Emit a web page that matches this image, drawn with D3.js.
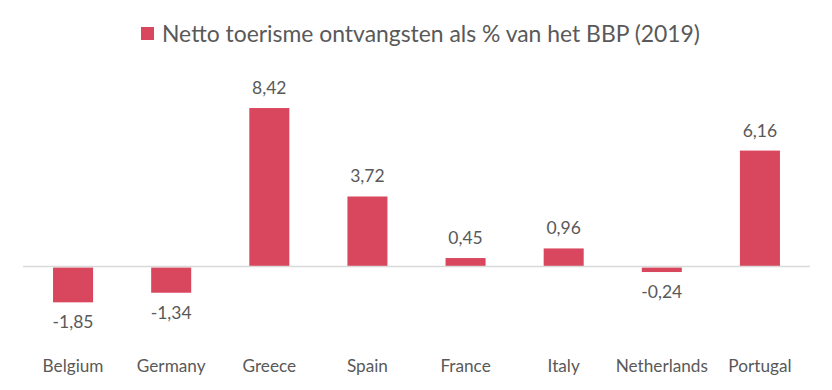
<!DOCTYPE html>
<html><head><meta charset="utf-8">
<script src="https://cdn.jsdelivr.net/npm/d3@7"></script>
<style>body{margin:0;background:#fff}svg{display:block}</style>
</head><body>
<script>
const categories = ["Belgium","Germany","Greece","Spain","France","Italy","Netherlands","Portugal"];
const values = [-1.85,-1.34,8.42,3.72,0.45,0.96,-0.24,6.16];
const seriesName = "Netto toerisme ontvangsten als % van het BBP (2019)";

const W=832,H=390;
const svg=d3.select("body").append("svg").attr("width",W).attr("height",H);
const font="Lato, 'Open Sans', sans-serif";
const color="#D9475F";
const textColor="#595959";

const x=d3.scaleBand().domain(categories).range([24,809]).paddingInner(0.592).paddingOuter(0.296);
const y=d3.scaleLinear().domain([-4,10]).range([341.8,78.3]);

const fmt=v=>d3.format(".2f")(v).replace(".",",").replace("\u2212","-");

svg.selectAll("rect.bar").data(values).join("rect").attr("class","bar")
 .attr("x",(d,i)=>x(categories[i]))
 .attr("width",x.bandwidth())
 .attr("y",d=>d>=0?y(d):y(0)+1)
 .attr("height",d=>Math.abs(y(d)-y(0)))
 .attr("fill",color);

svg.append("line").attr("x1",23).attr("x2",810).attr("y1",y(0)).attr("y2",y(0))
 .attr("stroke","#d9d9d9").attr("stroke-width",1.5);

svg.selectAll("text.val").data(values).join("text").attr("class","val")
 .attr("x",(d,i)=>x(categories[i])+x.bandwidth()/2)
 .attr("y",d=>d>=0?y(d)-14:y(d)+27)
 .attr("text-anchor","middle").attr("font-family",font).attr("font-size",17.5)
 .attr("fill",textColor).text(fmt);

const xAxis=svg.append("g").attr("transform",`translate(0,${y(0)})`)
 .call(d3.axisBottom(x).tickSize(0).tickPadding(0));
xAxis.select(".domain").remove();
xAxis.selectAll("text").attr("y",372-y(0)).attr("dy",0).attr("font-family",font).attr("font-size",17.2).attr("fill",textColor);

const lg=svg.append("g");
lg.append("rect").attr("x",141).attr("y",27).attr("width",13).attr("height",13).attr("fill",color);
lg.append("text").attr("x",162).attr("y",42).attr("font-family",font).attr("font-size",22.9)
 .attr("fill",textColor).text(seriesName);
</script>
</body></html>
